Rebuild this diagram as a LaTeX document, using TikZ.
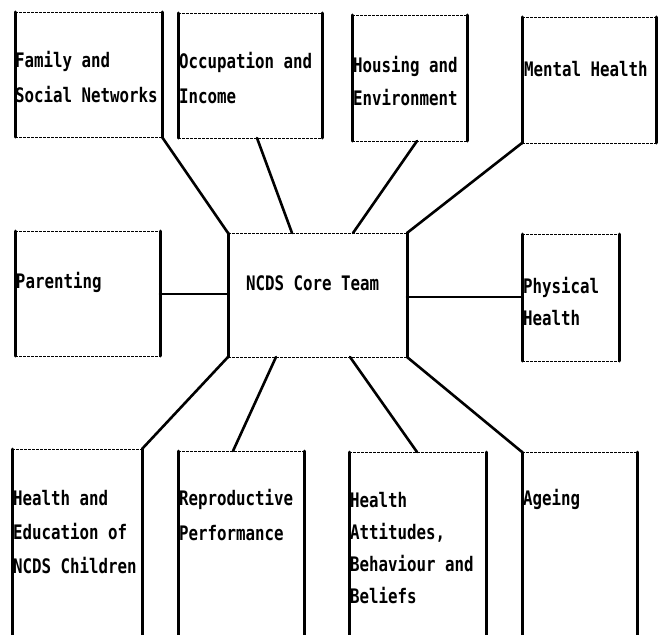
\documentclass[tikz,border=0pt]{standalone}
\usepackage{fontspec}
\newfontfamily\dotfont[FakeStretch=0.79]{DejaVu Sans Mono}
\tikzset{
  boxn/.style={rectangle, inner sep=0pt, outer sep=0pt, draw=none},
  side/.style={line width=3pt, line cap=round},
  edgeline/.style={line width=0.9pt, dash pattern=on 3pt off 1pt},
  conn/.style={line width=2.6pt, line cap=round},
  lbl/.style={inner sep=0pt, outer sep=0pt, align=left, anchor=base west,
    font=\dotfont\bfseries\fontsize{20}{33}\selectfont},
}
\newcommand\mkbox[5]{\node[boxn, minimum width={(#4-#2)*1pt}, minimum height={(#5-#3)*1pt}] (#1) at ({(#2+#4)/2},{(#3+#5)/2}) {};}
\newcommand\closedsides[1]{%
  \draw[side] (#1.north west) -- (#1.south west);
  \draw[side] (#1.north east) -- (#1.south east);
  \draw[edgeline] (#1.north west) -- (#1.north east);
  \draw[edgeline] (#1.south west) -- (#1.south east);}
\newcommand\opensides[1]{%
  \draw[side] (#1.north west) -- (#1.south west);
  \draw[side] (#1.north east) -- (#1.south east);
  \draw[edgeline] (#1.north west) -- (#1.north east);}
\begin{document}
\begin{tikzpicture}[x=1pt,y=-1pt]
\useasboundingbox (0,0) rectangle (658,634);
% boxes
\mkbox{fam}{15}{12}{162}{137}
\mkbox{occ}{178}{13}{322}{138}
\mkbox{hou}{352}{15}{467}{141}
\mkbox{men}{522}{17}{656}{143}
\mkbox{par}{15}{231}{160}{356}
\mkbox{core}{228}{233}{407}{357}
\mkbox{phy}{522}{234}{619}{361}
\mkbox{hed}{12}{449}{142}{640}
\mkbox{rep}{178}{451}{304}{640}
\mkbox{hat}{349}{452}{486}{640}
\mkbox{age}{522}{452}{637}{640}
\closedsides{fam}
\closedsides{occ}
\closedsides{hou}
\closedsides{men}
\closedsides{par}
\closedsides{core}
\closedsides{phy}
\opensides{hed}
\opensides{rep}
\opensides{hat}
\opensides{age}
% texts (anchor at baseline of last line)
\node[lbl, font=\dotfont\bfseries\fontsize{20}{35}\selectfont] (famt) at (15,102) {Family and\\Social Networks};
\node[lbl, font=\dotfont\bfseries\fontsize{20}{35}\selectfont] (occt) at (179,103) {Occupation and\\Income};
\node[lbl] (hout) at (353,105) {Housing and\\Environment};
\node[lbl] (ment) at (524,76) {Mental Health};
\node[lbl] (part) at (16,288) {Parenting};
\node[lbl] (coret) at (246,290) {NCDS Core Team};
\node[lbl, font=\dotfont\bfseries\fontsize{20}{32}\selectfont] (phyt) at (523,325) {Physical\\Health};
\node[lbl, font=\dotfont\bfseries\fontsize{20}{34}\selectfont] (hedt) at (13,573) {Health and\\Education of\\NCDS Children};
\node[lbl, font=\dotfont\bfseries\fontsize{20}{35}\selectfont] (rept) at (179,540) {Reproductive\\Performance};
\node[lbl, font=\dotfont\bfseries\fontsize{20}{31.7}\selectfont] (hatt) at (350,603) {Health\\Attitudes,\\Behaviour and\\Beliefs};
\node[lbl] (aget) at (523,505) {Ageing};
% connectors
\draw[conn] (fam.south east) -- (core.north west);
\draw[conn] ([xshift=79pt]occ.south west) -- ([xshift=64pt]core.north west);
\draw[conn] ([xshift=65pt]hou.south west) -- ([xshift=125pt]core.north west);
\draw[conn] (men.south west) -- (core.north east);
\draw[conn] (par.east |- 0,294) -- (core.west |- 0,294);
\draw[conn] (core.east |- 0,297) -- (phy.west |- 0,297);
\draw[conn] (core.south west) -- (hed.north east);
\draw[conn] ([xshift=48pt]core.south west) -- ([xshift=55pt]rep.north west);
\draw[conn] ([xshift=122pt]core.south west) -- ([xshift=68pt]hat.north west);
\draw[conn] (core.south east) -- (age.north west);
\end{tikzpicture}
\end{document}
